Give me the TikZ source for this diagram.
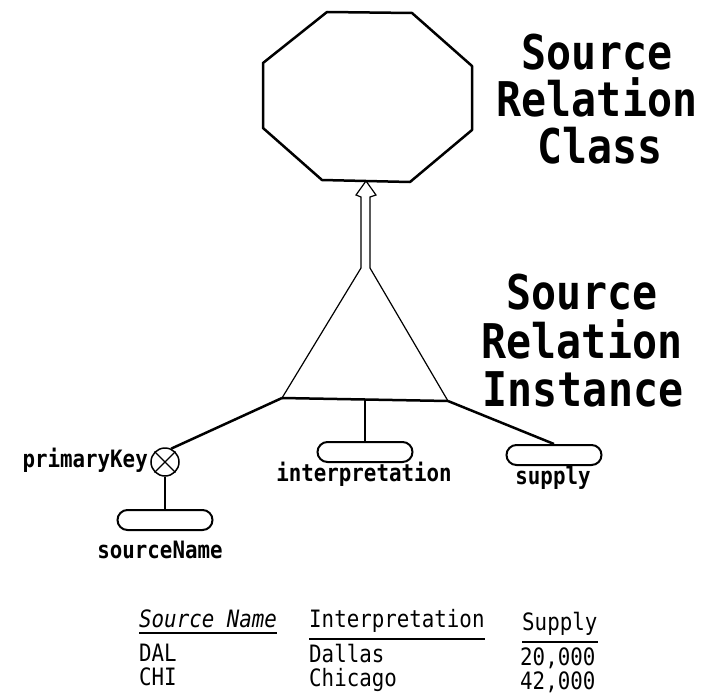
\documentclass[tikz,border=0pt]{standalone}
\usepackage{fontspec}
\newfontfamily\scanmono{DejaVu Sans Mono}[FakeStretch=0.87]
\usetikzlibrary{positioning,shapes.misc}
\tikzset{
  bigtitle/.style={font=\scanmono\bfseries\fontsize{48}{52}\selectfont,anchor=base,inner sep=0pt},
  attrtext/.style={font=\scanmono\bfseries\fontsize{24}{26}\selectfont,anchor=base,inner sep=0pt},
  cell/.style={font=\scanmono\fontsize{24}{26}\selectfont,anchor=base west,inner sep=0pt},
  attr/.style={rounded rectangle,draw,line width=2bp,minimum width=95bp,minimum height=20bp,inner sep=0pt},
  keymark/.style={circle,draw,line width=1.5bp,minimum size=28bp,inner sep=0pt},
  thickline/.style={line width=2.5bp},
  thinline/.style={line width=1.2bp},
}
\begin{document}
\begin{tikzpicture}[x=1bp,y=-1bp]
  \useasboundingbox (0,0) rectangle (708,696);
  % class
  \draw[thickline,line join=round] (327,12) -- (412,13) -- (472,66) -- (472,130)
    -- (410,182) -- (322,180) -- (263,128) -- (263,63) -- cycle;
  \coordinate (clsbot) at (366,181);
  \node[bigtitle] (clsA) at (597,70) {Source};
  \node[bigtitle] (clsB) at (597,117) {Relation};
  \node[bigtitle] (clsC) at (600,163) {Class};
  % instance
  \coordinate (apexL) at (361,268);
  \coordinate (apexR) at (370,268);
  \coordinate (baseL) at (282,398);
  \coordinate (baseR) at (448,401);
  \coordinate (baseM) at (365,400);
  \draw[thinline] (apexL) -- (361,197) -- (356,195) -- (clsbot) -- (376,195) -- (370,197) -- (apexR);
  \draw[thinline] (apexL) -- (baseL);
  \draw[thinline] (apexR) -- (baseR);
  \draw[thickline] (baseL) -- (baseR);
  \node[bigtitle] (insA) at (582,309) {Source};
  \node[bigtitle] (insB) at (582,358) {Relation};
  \node[bigtitle] (insC) at (583,406) {Instance};
  % attributes
  \node[keymark] (pk) at (165,462) {};
  \draw[thinline] (pk.north east) -- (pk.south west) (pk.north west) -- (pk.south east);
  \node[attr] (srcname) at (165,520) {};
  \node[attr] (interp) at (365,452) {};
  \node[attr] (supply) at (554,455) {};
  \draw[thickline] (baseL) -- (pk.65);
  \draw[thinline] (baseM) -- (interp.north);
  \draw[thickline] (baseR) -- (supply.north);
  \draw[thinline] (pk.south) -- (srcname.north);
  \node[attrtext,anchor=base east] (pklbl) at (148,467) {primaryKey};
  \node[attrtext] (snlbl) at (160,558) {sourceName};
  \node[attrtext] (iplbl) at (364,481) {interpretation};
  \node[attrtext] (sulbl) at (553,484) {supply};
  % table
  \node[cell] (hsrc) at (139,627) {\itshape Source Name};
  \node[cell] (hint) at (309,627) {Interpretation};
  \node[cell] (hsup) at (522,630) {Supply};
  \draw[thickline] ([yshift=-6bp]hsrc.base west) -- ([yshift=-6bp]hsrc.base east);
  \draw[thickline] ([yshift=-12bp]hint.base west) -- ([yshift=-12bp]hint.base east);
  \draw[thickline] ([yshift=-12bp]hsup.base west) -- ([yshift=-12bp]hsup.base east);
  \node[cell] (dal) at (139,661) {DAL};
  \node[cell] (chi) at (139,685) {CHI};
  \node[cell] (dallas) at (309,662) {Dallas};
  \node[cell] (chicago) at (309,686) {Chicago};
  \node[cell] (supdal) at (520,665) {20,000};
  \node[cell] (supchi) at (520,689) {42,000};
\end{tikzpicture}
\end{document}
